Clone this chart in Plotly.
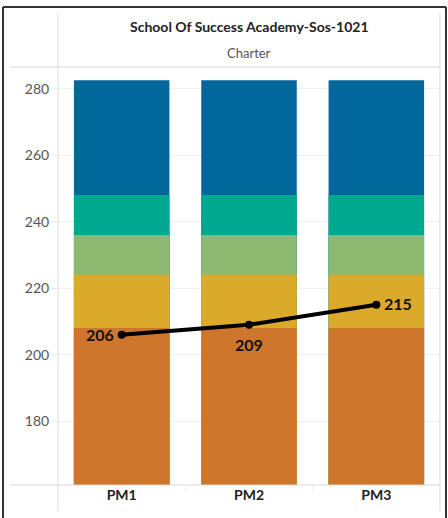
import plotly.graph_objects as go

categories = ["PM1", "PM2", "PM3"]
# cumulative band tops
band_orange = [208, 208, 208]
band_yellow = [224, 224, 224]
band_green = [236, 236, 236]
band_teal = [248, 248, 248]
band_blue = [282.5, 282.5, 282.5]
scores = [206, 209, 215]
score_labels = ["206", "209", "215"]
y_ticks = [180, 200, 220, 240, 260, 280]

title_text = "School Of Success Academy-Sos-1021"
subtitle_text = "Charter"

colors = {
    "blue": "#02679A",
    "teal": "#00A88F",
    "green": "#8CB870",
    "yellow": "#DCAA2B",
    "orange": "#CD762C",
}

fig = go.Figure()
for vals, key in [(band_blue, "blue"), (band_teal, "teal"), (band_green, "green"),
                  (band_yellow, "yellow"), (band_orange, "orange")]:
    fig.add_trace(go.Bar(x=categories, y=vals, marker=dict(color=colors[key], line=dict(width=0)),
                         width=0.75, showlegend=False, hoverinfo="skip"))

fig.add_trace(go.Scatter(
    x=categories, y=scores, mode="lines+markers",
    line=dict(color="black", width=4),
    marker=dict(color="black", size=8),
    showlegend=False,
))

W, H = 448, 518
L, R, T, B = 58, 8, 67, 33
pw, ph = W - L - R, H - T - B

def px(x):
    return (x - L) / pw

def py(y):
    return (H - B - y) / ph

grey = "#d9d9d9"
shapes = [
    dict(type="line", xref="paper", yref="paper", x0=px(10), x1=1, y0=1, y1=1, line=dict(color=grey, width=1)),
    dict(type="line", xref="paper", yref="paper", x0=px(10), x1=1, y0=0, y1=0, line=dict(color=grey, width=1)),
    dict(type="line", xref="paper", yref="paper", x0=0, x1=0, y0=py(13), y1=py(511), line=dict(color=grey, width=1)),
    dict(type="line", xref="paper", yref="paper", x0=1, x1=1, y0=py(13), y1=py(511), line=dict(color=grey, width=1)),
    dict(type="line", xref="paper", yref="paper", x0=px(3), x1=px(446), y0=py(7), y1=py(7), line=dict(color="#333333", width=2)),
    dict(type="line", xref="paper", yref="paper", x0=px(3), x1=px(3), y0=py(7), y1=py(520), line=dict(color="#333333", width=2)),
    dict(type="line", xref="paper", yref="paper", x0=px(446), x1=px(446), y0=py(7), y1=py(520), line=dict(color="#333333", width=2)),
]
for b in [0.5, 1.5]:
    shapes.append(dict(type="line", xref="x", yref="paper", x0=b, x1=b, y0=py(486), y1=py(492),
                       line=dict(color="#eeeeee", width=1)))

label_font = dict(family="Lato", size=16, color="#111111", weight="bold")
label_offsets = [("right", "middle", -6, 0), ("center", "top", 0, -8), ("left", "middle", 6, 1)]
annotations = [
    dict(text=title_text, xref="paper", yref="paper", x=0.5, y=py(27), showarrow=False,
         xanchor="center", yanchor="middle", font=dict(family="Lato", size=14, color="#222222", weight="bold")),
    dict(text=subtitle_text, xref="paper", yref="paper", x=0.5, y=py(53), showarrow=False,
         xanchor="center", yanchor="middle", font=dict(family="Lato", size=13, color="#555555")),
]
for cat, val, lab, (xa, ya, xs, ys) in zip(categories, scores, score_labels, label_offsets):
    annotations.append(dict(text=lab, x=cat, y=val, xref="x", yref="y", showarrow=False,
                            xanchor=xa, yanchor=ya, xshift=xs, yshift=ys, font=label_font))

fig.update_layout(
    width=W, height=H,
    margin=dict(l=L, r=R, t=T, b=B),
    paper_bgcolor="white", plot_bgcolor="white",
    barmode="overlay", bargap=0.25,
    font=dict(family="Lato", color="#333333"),
    shapes=shapes,
    annotations=annotations,
    xaxis=dict(
        showgrid=False, showline=False, zeroline=False,
        tickfont=dict(family="Lato", size=14, color="#222222", weight="bold"),
        ticks="", fixedrange=True,
    ),
    yaxis=dict(
        range=[160.8, 286.5],
        tickvals=y_ticks,
        showgrid=True, gridcolor="#f0f0f0", gridwidth=1,
        zeroline=False, showline=False,
        ticks="outside", ticklen=5, tickcolor="#e8e8e8",
        tickfont=dict(family="Lato", size=14, color="#555555"),
        fixedrange=True,
    ),
)

fig.write_html("out.html", config={"displayModeBar": False},
               post_script="document.body.style.margin='0px';document.body.style.overflow='hidden';")
